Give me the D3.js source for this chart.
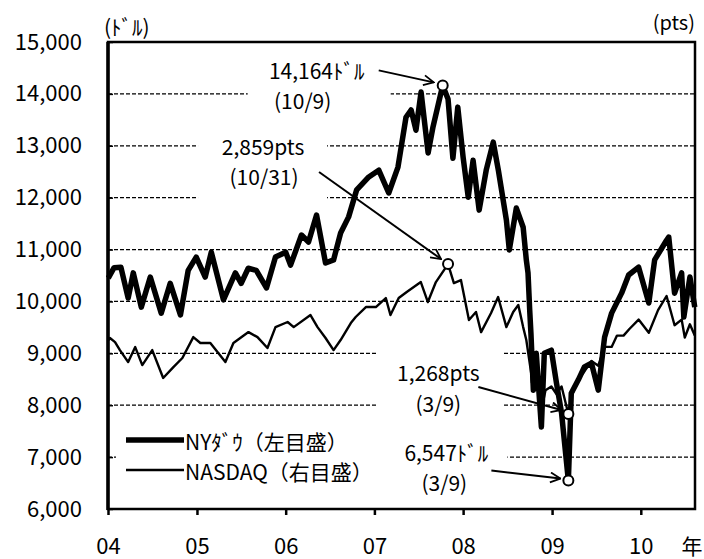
<!DOCTYPE html>
<html>
<head>
<meta charset="utf-8">
<script src="https://cdn.jsdelivr.net/npm/d3@7"></script>
<style>
  body { margin: 0; background: #fff; }
  text { font-family: "Noto Sans CJK JP", "Noto Sans", sans-serif; fill: #000; }
</style>
</head>
<body>
<svg id="chart" width="704" height="559"></svg>
<script>
"use strict";

// NY Dow (left axis, dollars)
const dowSeries = [
  ["2004-01-02", 10450], ["2004-01-26", 10650], ["2004-02-23", 10660], ["2004-03-24", 10065],
  ["2004-04-14", 10550], ["2004-05-17", 9890], ["2004-06-23", 10470], ["2004-08-07", 9775],
  ["2004-09-13", 10350], ["2004-10-25", 9740], ["2004-11-26", 10600], ["2004-12-29", 10855],
  ["2005-02-04", 10470], ["2005-03-01", 10950], ["2005-04-20", 10030], ["2005-06-08", 10550],
  ["2005-07-02", 10350], ["2005-07-31", 10640], ["2005-09-02", 10600], ["2005-10-14", 10260],
  ["2005-11-20", 10855], ["2006-01-01", 10950], ["2006-01-21", 10700], ["2006-03-07", 11280],
  ["2006-04-05", 11145], ["2006-05-08", 11665], ["2006-06-14", 10740], ["2006-07-17", 10800],
  ["2006-08-15", 11320], ["2006-09-17", 11630], ["2006-10-20", 12150], ["2006-12-09", 12400],
  ["2007-01-19", 12530], ["2007-03-01", 12090], ["2007-04-08", 12590], ["2007-05-11", 13550],
  ["2007-06-01", 13690], ["2007-06-21", 13300], ["2007-07-12", 14035], ["2007-08-10", 12860],
  ["2007-08-30", 13360], ["2007-10-09", 14164], ["2007-10-31", 13900], ["2007-11-20", 12760],
  ["2007-12-10", 13745], ["2008-01-01", 12780], ["2008-01-22", 12010], ["2008-02-11", 12720],
  ["2008-03-07", 11760], ["2008-04-05", 12530], ["2008-05-04", 13070], ["2008-05-25", 12530],
  ["2008-06-27", 11570], ["2008-07-09", 10990], ["2008-08-07", 11800], ["2008-09-04", 11430],
  ["2008-09-17", 10800], ["2008-09-24", 10550], ["2008-10-01", 9830], ["2008-10-06", 9390],
  ["2008-10-16", 8290], ["2008-10-28", 9000], ["2008-11-18", 7580], ["2008-11-30", 9000],
  ["2008-12-29", 9060], ["2009-01-19", 8430], ["2009-02-09", 7850], ["2009-03-09", 6547],
  ["2009-03-21", 8230], ["2009-04-19", 8490], ["2009-05-14", 8740], ["2009-06-12", 8810],
  ["2009-07-10", 8290], ["2009-08-05", 9310], ["2009-09-03", 9775], ["2009-10-14", 10160],
  ["2009-11-12", 10510], ["2009-12-23", 10660], ["2010-02-03", 9970], ["2010-02-27", 10800],
  ["2010-04-17", 11180], ["2010-04-26", 11240], ["2010-05-20", 10160], ["2010-06-18", 10550],
  ["2010-06-27", 9700], ["2010-07-22", 10470], ["2010-08-11", 9890]
];

// NASDAQ (right axis, pts)
const nasdaqSeries = [
  ["2004-01-02", 2050], ["2004-01-09", 2074], ["2004-01-30", 2031], ["2004-02-19", 1946],
  ["2004-03-24", 1819], ["2004-04-22", 1978], ["2004-05-21", 1787], ["2004-07-01", 1946],
  ["2004-08-15", 1650], ["2004-09-26", 1766], ["2004-11-02", 1862], ["2004-12-17", 2084],
  ["2005-01-15", 2021], ["2005-02-25", 2021], ["2005-04-28", 1819], ["2005-05-31", 2021],
  ["2005-08-01", 2137], ["2005-09-07", 2084], ["2005-10-18", 1968], ["2005-11-20", 2190],
  ["2006-01-09", 2244], ["2006-02-03", 2190], ["2006-04-13", 2318], ["2006-05-12", 2190],
  ["2006-06-14", 2074], ["2006-07-17", 1946], ["2006-08-15", 2053], ["2006-09-26", 2233],
  ["2006-10-16", 2297], ["2006-11-27", 2403], ["2007-01-07", 2403], ["2007-02-17", 2498],
  ["2007-03-08", 2318], ["2007-04-11", 2498], ["2007-05-14", 2562], ["2007-07-11", 2668],
  ["2007-08-09", 2456], ["2007-09-11", 2668], ["2007-10-31", 2859], ["2007-11-24", 2657],
  ["2007-12-23", 2689], ["2008-01-25", 2265], ["2008-02-23", 2350], ["2008-03-15", 2137],
  ["2008-04-25", 2339], ["2008-05-24", 2509], ["2008-06-27", 2190], ["2008-07-25", 2350],
  ["2008-08-15", 2424], ["2008-09-04", 2190], ["2008-09-17", 2053], ["2008-10-07", 1703],
  ["2008-10-10", 1600], ["2008-10-20", 1780], ["2008-10-28", 1600], ["2008-11-05", 1720],
  ["2008-11-20", 1340], ["2008-12-05", 1520], ["2008-12-29", 1560], ["2009-01-19", 1480],
  ["2009-02-09", 1560], ["2009-03-09", 1268], ["2009-03-21", 1450], ["2009-04-19", 1640],
  ["2009-05-14", 1720], ["2009-06-12", 1830], ["2009-07-10", 1780], ["2009-08-05", 1980],
  ["2009-09-03", 1980], ["2009-09-25", 2100], ["2009-10-22", 2100], ["2009-11-15", 2170],
  ["2009-12-23", 2270], ["2010-02-03", 2130], ["2010-03-13", 2370], ["2010-04-17", 2520],
  ["2010-05-20", 2210], ["2010-06-18", 2270], ["2010-07-01", 2080], ["2010-07-22", 2220],
  ["2010-08-11", 2100]
];

const leftTicks = [6000, 7000, 8000, 9000, 10000, 11000, 12000, 13000, 14000, 15000];
const yearTicks = ["2004", "2005", "2006", "2007", "2008", "2009", "2010"];
const legendLabels = ["NYﾀﾞｳ（左目盛）", "NASDAQ（右目盛）"];

// highlighted points: [date, value, series, label line 1, label line 2]
const callouts = [
  ["2007-10-09", 14164, "dow", "14,164ﾄﾞﾙ", "(10/9)"],
  ["2007-10-31", 2859, "nasdaq", "2,859pts", "(10/31)"],
  ["2009-03-09", 1268, "nasdaq", "1,268pts", "(3/9)"],
  ["2009-03-09", 6547, "dow", "6,547ﾄﾞﾙ", "(3/9)"]
];

// layout of callout labels relative to their point (pixels)
const calloutLayout = [
  { l1: [-126, -6], l2: [-140, 24], from: [-64, -15], to: [-9, -3], box: [-195, -29, 143, 60] },
  { l1: [-185, -109], l2: [-184, -79], from: [-129, -92], to: [-7, -5], box: [-250, -132, 129, 68] },
  { l1: [-130, -33], l2: [-130, -2], from: [-90, -27], to: [-7, -4], box: [-191, -69, 125, 77] },
  { l1: [-122, -20], l2: [-124, 10], from: [-77, -10], to: [-8, -2], box: [-196, -40, 135, 57] }
];

const parse = d3.timeParse("%Y-%m-%d");
const svg = d3.select("#chart");
const plotLeft = 108, plotRight = 695, plotTop = 42, plotBottom = 509;

const x = d3.scaleTime()
  .domain([parse("2004-01-01"), parse("2010-08-12")])
  .range([plotLeft, plotRight]);
const yL = d3.scaleLinear().domain([6000, 15000]).range([plotBottom, plotTop]);
const yR = d3.scaleLinear().domain([260, 5215]).range([plotBottom, plotTop]);

// grid
svg.append("g")
  .selectAll("line")
  .data(leftTicks.slice(1, -1))
  .enter()
  .append("line")
  .attr("x1", plotLeft).attr("x2", plotRight)
  .attr("y1", d => yL(d)).attr("y2", d => yL(d))
  .attr("stroke", "#000")
  .attr("stroke-width", 1.3)
  .attr("stroke-dasharray", "4,2");

// white boxes behind labels
const pt = c => [x(parse(c[0])), c[2] === "dow" ? yL(c[1]) : yR(c[1])];
callouts.forEach((c, i) => {
  const [px, py] = pt(c);
  const b = calloutLayout[i].box;
  svg.append("rect")
    .attr("x", px + b[0]).attr("y", py + b[1])
    .attr("width", b[2]).attr("height", b[3])
    .attr("fill", "#fff");
});
svg.append("rect")
  .attr("x", 116).attr("y", 420).attr("width", 258).attr("height", 80)
  .attr("fill", "#fff");

// series
const line = yScale => d3.line()
  .x(d => x(parse(d[0])))
  .y(d => yScale(d[1]));

svg.append("path")
  .datum(nasdaqSeries)
  .attr("d", line(yR))
  .attr("fill", "none")
  .attr("stroke", "#000")
  .attr("stroke-width", 2.4)
  .attr("stroke-linejoin", "round");

svg.append("path")
  .datum(dowSeries)
  .attr("d", line(yL))
  .attr("fill", "none")
  .attr("stroke", "#000")
  .attr("stroke-width", 5.5)
  .attr("stroke-linejoin", "round");

// arrow head
svg.append("defs").append("marker")
  .attr("id", "arrow")
  .attr("viewBox", "0 0 12 12")
  .attr("refX", 11).attr("refY", 6)
  .attr("markerWidth", 12).attr("markerHeight", 12)
  .attr("markerUnits", "userSpaceOnUse")
  .attr("orient", "auto")
  .append("path")
  .attr("d", "M1,1 L11,6 L1,11")
  .attr("fill", "none")
  .attr("stroke", "#000")
  .attr("stroke-width", 1.8);

callouts.forEach((c, i) => {
  const [px, py] = pt(c);
  const l = calloutLayout[i];
  svg.append("line")
    .attr("x1", px + l.from[0]).attr("y1", py + l.from[1])
    .attr("x2", px + l.to[0]).attr("y2", py + l.to[1])
    .attr("stroke", "#000")
    .attr("stroke-width", 2)
    .attr("marker-end", "url(#arrow)");
  svg.append("circle")
    .attr("cx", px).attr("cy", py).attr("r", 5)
    .attr("fill", "#fff").attr("stroke", "#000").attr("stroke-width", 2);
  svg.append("text")
    .attr("x", px + l.l1[0]).attr("y", py + l.l1[1])
    .attr("text-anchor", "middle").attr("font-size", "21px")
    .text(c[3]);
  svg.append("text")
    .attr("x", px + l.l2[0]).attr("y", py + l.l2[1])
    .attr("text-anchor", "middle").attr("font-size", "21px")
    .text(c[4]);
});

// legend
const legendY = [440, 470];
legendLabels.forEach((lab, i) => {
  svg.append("line")
    .attr("x1", 126).attr("x2", 184)
    .attr("y1", legendY[i]).attr("y2", legendY[i])
    .attr("stroke", "#000")
    .attr("stroke-width", i === 0 ? 5.5 : 2.4);
  svg.append("text")
    .attr("x", 185).attr("y", legendY[i] + 10)
    .attr("font-size", "21px")
    .text(lab);
});

// frame
svg.append("rect")
  .attr("x", plotLeft).attr("y", plotTop)
  .attr("width", plotRight - plotLeft).attr("height", plotBottom - plotTop)
  .attr("fill", "none")
  .attr("stroke", "#000")
  .attr("stroke-width", 2.5);
svg.append("line")
  .attr("x1", plotLeft).attr("x2", plotLeft)
  .attr("y1", plotTop).attr("y2", plotBottom + 1)
  .attr("stroke", "#000").attr("stroke-width", 3.5);

// axes
const yAxis = svg.append("g")
  .attr("transform", `translate(${plotLeft},0)`)
  .call(d3.axisLeft(yL).tickValues(leftTicks).tickFormat(d3.format(",")).tickSize(-5).tickPadding(26));
yAxis.select(".domain").remove();
yAxis.selectAll("line").attr("stroke-width", 1.5);
yAxis.selectAll("text")
  .attr("font-size", "22px")
  .attr("fill", "#000");

const xAxis = svg.append("g")
  .attr("transform", `translate(0,${plotBottom})`)
  .call(d3.axisBottom(x).tickValues(yearTicks.map(y => parse(y + "-01-01"))).tickFormat(d3.timeFormat("%y")).tickSize(6));
xAxis.select(".domain").remove();
xAxis.selectAll("line").attr("stroke-width", 2.5);
xAxis.selectAll("text")
  .attr("y", 45)
  .attr("dy", null)
  .attr("font-size", "22px")
  .attr("fill", "#000");

svg.append("text")
  .attr("x", 692).attr("y", 554)
  .attr("text-anchor", "middle").attr("font-size", "21px")
  .text("年");

// unit labels
svg.append("text")
  .attr("x", 104).attr("y", 35)
  .attr("font-size", "21px")
  .text("(ﾄﾞﾙ)");
svg.append("text")
  .attr("x", 695).attr("y", 30)
  .attr("text-anchor", "end")
  .attr("font-size", "20px")
  .text("(pts)");
</script>
</body>
</html>
